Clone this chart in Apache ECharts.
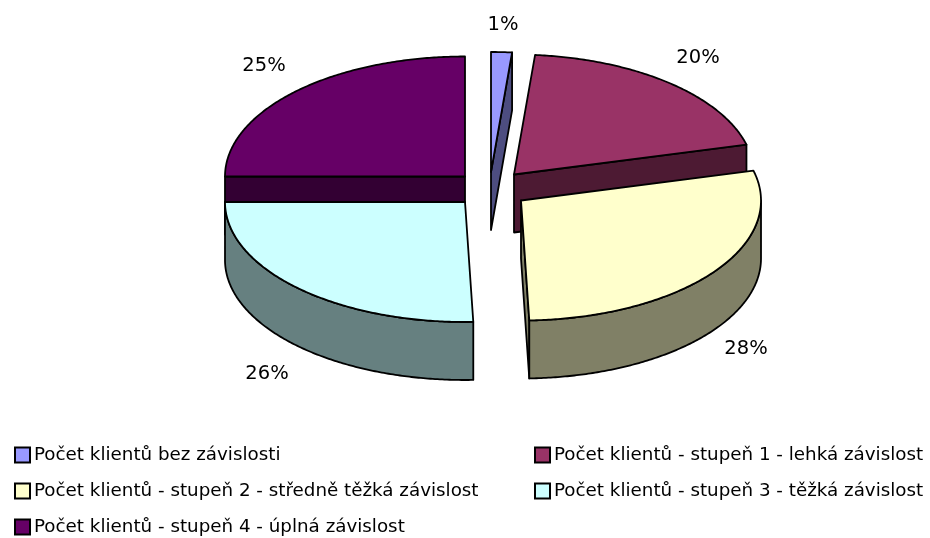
<!DOCTYPE html>
<html>
<head>
<meta charset="utf-8">
<style>html,body{margin:0;padding:0;background:#fff}#c{width:930px;height:538px}</style>
<script src="https://cdn.jsdelivr.net/npm/echarts@6/dist/echarts.min.js"></script>
</head>
<body>
<div id="c"></div>
<script>
const categories = [
  'Počet klientů bez závislosti',
  'Počet klientů - stupeň 1 - lehká závislost',
  'Počet klientů - stupeň 2 - středně těžká závislost',
  'Počet klientů - stupeň 3 - těžká závislost',
  'Počet klientů - stupeň 4 - úplná závislost'
];
const shares = [1.4, 19.6, 28.45, 25.55, 25.0];
const topColors = ['#9999FF', '#993366', '#FFFFCC', '#CCFFFF', '#660066'];
const sideColors = ['#4D4D80', '#4D1A33', '#808066', '#668080', '#330033'];

// layout of the exploded 3D pie
const radiusX = 240, radiusY = 120, depth = 58;
const apexes = [[491, 172], [514, 174.5], [521, 200.5], [465, 202], [465, 176.5]];
const labelPos = [[503, 25], [698, 58], [746, 349], [267, 374], [264, 66]];
const legendPos = [[14, 446], [534, 446], [14, 482], [534, 482], [14, 518]];
const zLevels = [2, 1, 3, 3, 1];
const total = shares.reduce((a, b) => a + b, 0);
const FONT = '"DejaVu Sans", sans-serif';

function rim(i, t) {
  return [apexes[i][0] + radiusX * Math.sin(t), apexes[i][1] - radiusY * Math.cos(t)];
}
function arc(i, a, b, dy) {
  const pts = [], n = Math.max(2, Math.ceil(Math.abs(b - a) / 0.01));
  for (let k = 0; k <= n; k++) {
    const p = rim(i, a + (b - a) * k / n);
    pts.push([p[0], p[1] + dy]);
  }
  return pts;
}
function makeRender(i) {
  return function (params, api) {
    const before = shares.slice(0, i).reduce((a, b) => a + b, 0);
    const a0 = before / total * Math.PI * 2;
    const a1 = (before + api.value(0)) / total * Math.PI * 2;
    const ap = apexes[i];
    const edge = { stroke: '#000', lineWidth: 1.8, lineJoin: 'round' };
    const side = Object.assign({ fill: sideColors[i] }, edge);
    const children = [];
    const cut = (t) => {
      const p = rim(i, t);
      children.push({ type: 'polygon', shape: { points: [ap, p, [p[0], p[1] + depth], [ap[0], ap[1] + depth]] }, style: side });
    };
    if (Math.sin(a0) < 0) cut(a0);
    if (Math.sin(a1) > 0) cut(a1);
    const w0 = Math.max(a0, Math.PI / 2), w1 = Math.min(a1, Math.PI * 1.5);
    if (w1 - w0 > 0.01) {
      const top = arc(i, w0, w1, 0), bottom = arc(i, w1, w0, depth);
      children.push({ type: 'polygon', shape: { points: top.concat(bottom) }, style: side });
    }
    children.push({
      type: 'polygon',
      shape: { points: [ap].concat(arc(i, a0, a1, 0)) },
      style: Object.assign({ fill: topColors[i] }, edge)
    });
    children.push({
      type: 'text', z2: 10,
      style: {
        x: labelPos[i][0], y: labelPos[i][1],
        text: Math.round(api.value(0) / total * 100) + '%',
        fill: '#000', font: '19.5px ' + FONT, align: 'center', verticalAlign: 'middle'
      }
    });
    return { type: 'group', children };
  };
}
const option = {
  animation: false,
  backgroundColor: '#fff',
  legend: categories.map((name, i) => ({
    data: [name],
    left: legendPos[i][0], top: legendPos[i][1],
    padding: 0, itemWidth: 15, itemHeight: 15, itemGap: 0,
    icon: 'rect', selectedMode: false,
    itemStyle: { borderColor: '#000', borderWidth: 2 },
    textStyle: { fontFamily: FONT, fontSize: 18.3, color: '#000', padding: [0, 0, 0, -1] }
  })),
  series: categories.map((name, i) => ({
    type: 'custom', name, z: zLevels[i], silent: true,
    coordinateSystem: 'none',
    itemStyle: { color: topColors[i] },
    data: [[shares[i]]],
    renderItem: makeRender(i)
  }))
};
echarts.init(document.getElementById('c'), null, { renderer: 'canvas' }).setOption(option);
</script>
</body>
</html>
